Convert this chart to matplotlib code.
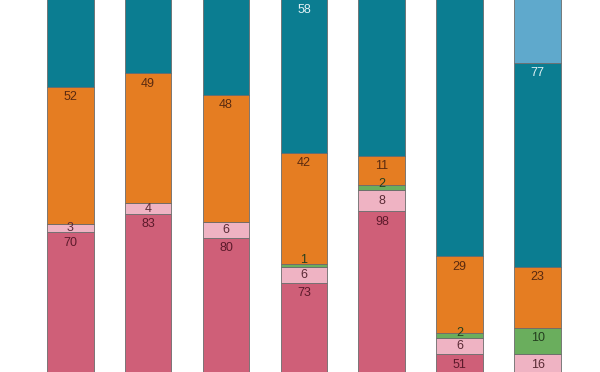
# stacked bars, cropped view, value labels near top of each segment
import matplotlib.pyplot as plt
import numpy as np

bars = ["A", "B", "C", "D", "E", "F", "G"]

# segments bottom -> top (base is the part below the visible crop)
base       = [31, 25, 19, 9, 11, 4, 0]
pink       = [70, 83, 80, 73, 98, 51, 39]
light_pink = [3, 4, 6, 6, 8, 6, 16]
green      = [0, 0, 0, 1, 2, 2, 10]
orange     = [52, 49, 48, 42, 11, 29, 23]
teal       = [60, 55, 65, 58, 75, 102, 77]
light_blue = [0, 0, 0, 0, 0, 0, 45]

series = [
    ("base", base, "#b04a63", "#5c1a2b"),
    ("pink", pink, "#cf5f78", "#5c1a2b"),
    ("light pink", light_pink, "#efb3c3", "#5a2a35"),
    ("green", green, "#6aae5d", "#243f1f"),
    ("orange", orange, "#e57d22", "#5a2a10"),
    ("teal", teal, "#0b7d91", "#dff1f4"),
    ("light blue", light_blue, "#5fa9cc", "#173f55"),
]

px = 2.65  # pixels per unit
y_lo, y_hi = (500 - 372) / px, 500 / px

fig = plt.figure(figsize=(6, 3.72), dpi=100)
ax = fig.add_axes([0, 0, 1, 1])

x = np.arange(len(bars))
bottom = np.zeros(len(bars))
for name, vals, color, tcolor in series:
    vals = np.array(vals, dtype=float)
    ax.bar(x, vals, width=0.6, bottom=bottom, color=color,
           edgecolor="#6b6b6b", linewidth=0.6)
    if name != "base":
        for i, v in enumerate(vals):
            if v <= 0:
                continue
            top = bottom[i] + v
            h = v * px
            if h < 22:
                y = bottom[i] + v / 2 + max(0, (9 - h) * 0.8) / px
            else:
                y = top - 10.5 / px
            # only labels that show (at least partly) inside the crop
            if y > y_hi + 5 / px or y < y_lo - 5 / px:
                continue
            ax.text(x[i], y, str(int(v)), ha="center", va="center",
                    fontsize=9, color=tcolor, family="Liberation Sans",
                    clip_on=True)
    bottom += vals

ax.set_xlim(-0.9, 6.8)
ax.set_ylim(y_lo, y_hi)
ax.axis("off")

plt.savefig("out.png", dpi=100)
